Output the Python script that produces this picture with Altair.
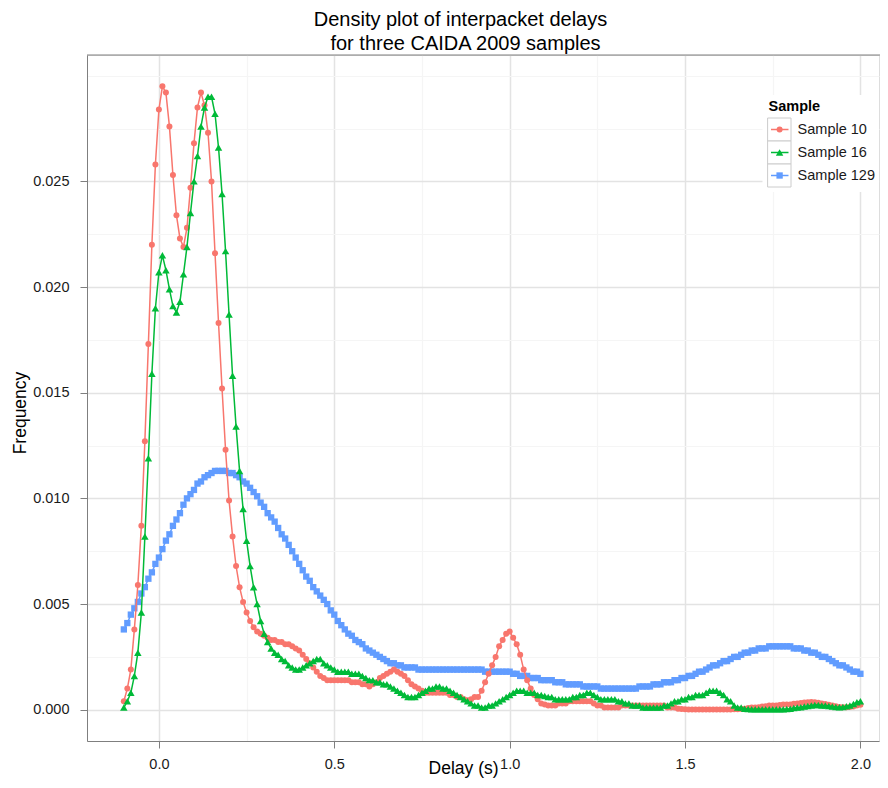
import altair as alt
import pandas as pd

# ---------------- data ----------------
X = [
    -0.10, -0.09, -0.08, -0.07, -0.06, -0.05, -0.04, -0.03, -0.02, -0.01,
    0.00, 0.01, 0.02, 0.03, 0.04, 0.05, 0.06, 0.07, 0.08, 0.09,
    0.10, 0.11, 0.12, 0.13, 0.14, 0.15, 0.16, 0.17, 0.18, 0.19,
    0.20, 0.21, 0.22, 0.23, 0.24, 0.25, 0.26, 0.27, 0.28, 0.29,
    0.30, 0.31, 0.32, 0.33, 0.34, 0.35, 0.36, 0.37, 0.38, 0.39,
    0.40, 0.41, 0.42, 0.43, 0.44, 0.45, 0.46, 0.47, 0.48, 0.49,
    0.50, 0.51, 0.52, 0.53, 0.54, 0.55, 0.56, 0.57, 0.58, 0.59,
    0.60, 0.61, 0.62, 0.63, 0.64, 0.65, 0.66, 0.67, 0.68, 0.69,
    0.70, 0.71, 0.72, 0.73, 0.74, 0.75, 0.76, 0.77, 0.78, 0.79,
    0.80, 0.81, 0.82, 0.83, 0.84, 0.85, 0.86, 0.87, 0.88, 0.89,
    0.90, 0.91, 0.92, 0.93, 0.94, 0.95, 0.96, 0.97, 0.98, 0.99,
    1.00, 1.01, 1.02, 1.03, 1.04, 1.05, 1.06, 1.07, 1.08, 1.09,
    1.10, 1.11, 1.12, 1.13, 1.14, 1.15, 1.16, 1.17, 1.18, 1.19,
    1.20, 1.21, 1.22, 1.23, 1.24, 1.25, 1.26, 1.27, 1.28, 1.29,
    1.30, 1.31, 1.32, 1.33, 1.34, 1.35, 1.36, 1.37, 1.38, 1.39,
    1.40, 1.41, 1.42, 1.43, 1.44, 1.45, 1.46, 1.47, 1.48, 1.49,
    1.50, 1.51, 1.52, 1.53, 1.54, 1.55, 1.56, 1.57, 1.58, 1.59,
    1.60, 1.61, 1.62, 1.63, 1.64, 1.65, 1.66, 1.67, 1.68, 1.69,
    1.70, 1.71, 1.72, 1.73, 1.74, 1.75, 1.76, 1.77, 1.78, 1.79,
    1.80, 1.81, 1.82, 1.83, 1.84, 1.85, 1.86, 1.87, 1.88, 1.89,
    1.90, 1.91, 1.92, 1.93, 1.94, 1.95, 1.96, 1.97, 1.98, 1.99,
    2.00,
]

SAMPLE_10 = [
    0.0004, 0.0010, 0.0019, 0.0038, 0.0059, 0.0087, 0.0127, 0.0173, 0.0220, 0.0258,
    0.0284, 0.0295, 0.0292, 0.0276, 0.0253, 0.0234, 0.0223, 0.0219, 0.0228, 0.0247,
    0.0268, 0.0285, 0.0292, 0.0286, 0.0273, 0.0250, 0.0216, 0.0183, 0.0152, 0.0123,
    0.0099, 0.0082, 0.0068, 0.0058, 0.0051, 0.0046, 0.0042, 0.0039, 0.0037, 0.0036,
    0.0035, 0.0034, 0.0033, 0.0033, 0.0032, 0.0032, 0.0031, 0.0031, 0.0030, 0.0029,
    0.0028, 0.0026, 0.0024, 0.0022, 0.0020, 0.0018, 0.0016, 0.0015, 0.0014, 0.0014,
    0.0014, 0.0014, 0.0014, 0.0014, 0.0014, 0.0013, 0.0013, 0.0013, 0.0012, 0.0012,
    0.0011, 0.0012, 0.0013, 0.0015, 0.0016, 0.0017, 0.0018, 0.0019, 0.0018, 0.0017,
    0.0016, 0.0014, 0.0012, 0.0011, 0.0010, 0.0009, 0.0008, 0.0008, 0.0008, 0.0008,
    0.0008, 0.0008, 0.0008, 0.0007, 0.0007, 0.0006, 0.0006, 0.0005, 0.00045, 0.0005,
    0.0006, 0.0006, 0.0009, 0.0013, 0.0017, 0.0021, 0.0025, 0.0030, 0.0033, 0.0036,
    0.0037, 0.0034, 0.0031, 0.0026, 0.0019, 0.0014, 0.0010, 0.0007, 0.0005, 0.0003,
    0.00025, 0.0002, 0.0002, 0.0002, 0.0003, 0.0003, 0.0003, 0.0004, 0.0004, 0.0004, 0.0004,
    0.0004, 0.0004, 0.0004, 0.0003, 0.0002, 0.0002, 0.0001, 0.0001, 0.0001, 0.0001,
    0.0001, 0.0002, 0.0002, 0.0002, 0.0002, 0.0002, 0.0002, 0.0002, 0.0002, 0.0002,
    0.0002, 0.0002, 0.0002, 0.0002, 0.0001, 0.0001, 0.0001, 0.00005, 0.00003, 0.00002,
    0.00001, 0.00001, 0.00001, 0.00001, 0.00001, 0.00001, 0.00001, 0.00001, 0.00001, 0.00001,
    0.00001, 0.00001, 0.00001, 0.00002, 0.00002, 0.00003, 0.00005, 0.00008, 0.0001, 0.0001,
    0.00012, 0.00015, 0.00017, 0.0002, 0.0002, 0.0002, 0.00022, 0.00025, 0.00025, 0.00025,
    0.00028, 0.0003, 0.00032, 0.00034, 0.00035, 0.00036, 0.00035, 0.00033, 0.0003, 0.00027,
    0.00023, 0.0002, 0.00016, 0.00013, 0.00012, 0.00012, 0.00013, 0.00015, 0.0002, 0.00024,
]

SAMPLE_16 = [
    0.0001, 0.0004, 0.0008, 0.0016, 0.0027, 0.0046, 0.0082, 0.0119, 0.0159, 0.0190,
    0.0207, 0.0215, 0.0208, 0.0199, 0.0191, 0.0188, 0.0193, 0.0206, 0.0219, 0.0235,
    0.0250, 0.0262, 0.0276, 0.0285, 0.0290, 0.0290, 0.0282, 0.0266, 0.0244, 0.0217,
    0.0187, 0.0158, 0.0134, 0.0113, 0.0095, 0.0080, 0.0068, 0.0058, 0.0050, 0.0042,
    0.0036, 0.0032, 0.0029, 0.0027, 0.0026, 0.0024, 0.0023, 0.0021, 0.0020, 0.0019,
    0.0019, 0.0020, 0.0021, 0.0022, 0.0023, 0.0024, 0.0024, 0.0022, 0.0021, 0.0020,
    0.0019, 0.0018, 0.0018, 0.0018, 0.0018, 0.0017, 0.0017, 0.0017, 0.0016, 0.0015,
    0.0014, 0.0014, 0.0013, 0.0013, 0.0012, 0.0012, 0.0011, 0.0010, 0.0009, 0.0008,
    0.0007, 0.0006, 0.0006, 0.0006, 0.0007, 0.0008, 0.0009, 0.0010, 0.0010, 0.0011,
    0.0011, 0.0010, 0.0010, 0.0009, 0.0008, 0.0007, 0.0006, 0.0005, 0.0004, 0.0003,
    0.0002, 0.0002, 0.0001, 0.0001, 0.0002, 0.0002, 0.0003, 0.0004, 0.0005, 0.0006,
    0.0007, 0.0008, 0.0009, 0.0009, 0.0009, 0.0008, 0.0008, 0.0008, 0.0007, 0.0007,
    0.00065, 0.0006, 0.0006, 0.0005, 0.0005, 0.0005, 0.0005, 0.0005, 0.0006, 0.0006, 0.0007,
    0.0007, 0.0008, 0.0008, 0.0007, 0.0006, 0.0005, 0.0005, 0.0005, 0.0005, 0.0005,
    0.0004, 0.0004, 0.0003, 0.0003, 0.0002, 0.0002, 0.0002, 0.0001, 0.0001, 0.0001,
    0.0001, 0.0001, 0.0001, 0.0002, 0.0002, 0.0003, 0.0004, 0.0004, 0.0005, 0.0005,
    0.0006, 0.0006, 0.0007, 0.0007, 0.0007, 0.0008, 0.0009, 0.0009, 0.0009, 0.0008,
    0.0007, 0.0005, 0.0004, 0.0002, 0.0001, 0.0001, 0.00005, 0.00003, 0.00002, 0.00002,
    0.00002, 0.00002, 0.00002, 0.00002, 0.00002, 0.00002, 0.00002, 0.00002, 0.00003, 0.00005,
    0.00008, 0.0001, 0.00012, 0.00015, 0.00018, 0.0002, 0.00022, 0.00022, 0.0002, 0.0002,
    0.00018, 0.00015, 0.00013, 0.00012, 0.00013, 0.00016, 0.0002, 0.00027, 0.00035, 0.0004,
]

SAMPLE_129 = [
    0.0038, 0.0041, 0.0045, 0.0048, 0.0051, 0.0055, 0.0058, 0.0062, 0.0065, 0.0069,
    0.0072, 0.0076, 0.0080, 0.0083, 0.0087, 0.0090, 0.0093, 0.0097, 0.0100, 0.0102,
    0.0104, 0.0107, 0.0108, 0.0110, 0.0111, 0.0112, 0.0113, 0.0113, 0.0113, 0.0113,
    0.0112, 0.0112, 0.0111, 0.0110, 0.0108, 0.0107, 0.0105, 0.0103, 0.0101, 0.0098,
    0.0096, 0.0093, 0.0091, 0.0089, 0.0086, 0.0083, 0.0081, 0.0078, 0.0075, 0.0072,
    0.0069, 0.0066, 0.0063, 0.0061, 0.0058, 0.0056, 0.0054, 0.0052, 0.0050, 0.0047,
    0.0045, 0.0042, 0.0040, 0.0038, 0.0036, 0.0035, 0.0033, 0.0032, 0.0031, 0.0029,
    0.0028, 0.0027, 0.0026, 0.0025, 0.0024, 0.0023, 0.0022, 0.0022, 0.0021, 0.0021,
    0.0020, 0.0020, 0.0020, 0.0020, 0.0019, 0.0019, 0.0019, 0.0019, 0.0019, 0.0019,
    0.0019, 0.0019, 0.0019, 0.0019, 0.0019, 0.0019, 0.0019, 0.0019, 0.0019, 0.0019,
    0.0019, 0.0019, 0.0019, 0.0018, 0.0018, 0.0018, 0.0018, 0.0018, 0.0018, 0.0018,
    0.0018, 0.0017, 0.0017, 0.0016, 0.0016, 0.0016, 0.0015, 0.0015, 0.0015, 0.0014,
    0.0014, 0.0014, 0.0014, 0.0013, 0.0013, 0.0013, 0.0012, 0.0012, 0.0012, 0.0012, 0.0012,
    0.0011, 0.0011, 0.0011, 0.0011, 0.0011, 0.0010, 0.0010, 0.0010, 0.0010, 0.0010,
    0.0010, 0.0010, 0.0010, 0.0010, 0.0010, 0.0010, 0.0011, 0.0011, 0.0011, 0.0011,
    0.0012, 0.0012, 0.0012, 0.0013, 0.0013, 0.0013, 0.0014, 0.0014, 0.0015, 0.0015,
    0.0016, 0.0016, 0.0017, 0.0018, 0.0018, 0.0019, 0.0020, 0.0021, 0.0021, 0.0022,
    0.0023, 0.0023, 0.0024, 0.0025, 0.0025, 0.0026, 0.0027, 0.0027, 0.0028, 0.0028,
    0.0029, 0.0029, 0.0029, 0.0030, 0.0030, 0.0030, 0.0030, 0.0030, 0.0030, 0.0030,
    0.0029, 0.0029, 0.0029, 0.0028, 0.0028, 0.0027, 0.0027, 0.0026, 0.0025, 0.0025,
    0.0024, 0.0023, 0.0022, 0.0021, 0.0021, 0.0020, 0.0019, 0.0018, 0.0018, 0.0017,
]

SERIES = ["Sample 10", "Sample 16", "Sample 129"]
COLORS = ["#F8766D", "#00BA38", "#619CFF"]
SHAPES = ["circle", "triangle-up", "square"]
TITLE_LINES = ["Density plot of interpacket delays", "for three CAIDA 2009 samples"]
X_TITLE = "Delay (s)"
Y_TITLE = "Frequency"
LEGEND_TITLE = "Sample"
X_BREAKS = [0.0, 0.25, 0.5, 0.75, 1.0, 1.25, 1.5, 1.75, 2.0]
Y_BREAKS = [0.0, 0.0025, 0.005, 0.0075, 0.01, 0.0125, 0.015, 0.0175,
            0.02, 0.0225, 0.025, 0.0275, 0.03]

# ---------------- layout / style ----------------
FONT = "Liberation Sans"
W, H = 792, 686
XDOM = [-0.205, 2.053]
YDOM = [-0.00148, 0.03098]
GREY50 = "#7F7F7F"
TXT = "#1A1A1A"
SIZES = {"circle": 36, "triangle-up": 56, "square": 40}

x_major = "round(datum.value*4) % 2 === 0"
y_major = "datum.value < 0.026 && round(datum.value*400) % 2 === 0"


def axis(major, fmt, pad):
    return alt.Axis(
        values=X_BREAKS if fmt == ".1f" else Y_BREAKS,
        title=None,
        labelExpr=f"({major}) ? format(datum.value, '{fmt}') : ''",
        labelFont=FONT, labelFontSize=14.5, labelColor=TXT,
        labelPadding=pad, labelFlush=False, labelOverlap=False,
        grid=True,
        gridColor={"condition": {"test": major, "value": "#E3E3E3"}, "value": "#F5F5F5"},
        gridWidth={"condition": {"test": major, "value": 1.5}, "value": 1.2},
        tickOpacity={"condition": {"test": major, "value": 1}, "value": 0},
        tickColor=GREY50, tickSize=7, tickWidth=1,
        domainColor=GREY50, domainWidth=1,
    )


x_enc = alt.X("x:Q", scale=alt.Scale(domain=XDOM, nice=False, zero=False),
              axis=axis(x_major, ".1f", 9))
y_enc = alt.Y("y:Q", scale=alt.Scale(domain=YDOM, nice=False, zero=False),
              axis=axis(y_major, ".3f", 11))

values = {"Sample 10": SAMPLE_10, "Sample 16": SAMPLE_16, "Sample 129": SAMPLE_129}
layers = []
# drawing order: Sample 129 underneath, then Sample 10, then Sample 16
for idx in [2, 0, 1]:
    name = SERIES[idx]
    df = pd.DataFrame({"x": X, "y": values[name], "Sample": name})
    base = alt.Chart(df).encode(x=x_enc, y=y_enc)
    layers.append(base.mark_line(color=COLORS[idx], strokeWidth=1.5))
    layers.append(base.mark_point(shape=SHAPES[idx], filled=True, size=SIZES[SHAPES[idx]],
                                  color=COLORS[idx], opacity=1, strokeWidth=0))


def one(text=""):
    return alt.Chart(pd.DataFrame({"t": [text]}))


# top panel border (right border is outside the picture)
layers.append(one().mark_rule(color=GREY50, strokeWidth=1).encode(
    x=alt.value(0), x2=alt.value(W + 1), y=alt.value(0)))

# titles
layers.append(one(TITLE_LINES[0]).mark_text(font=FONT, fontSize=20, color="black",
                                             align="center", baseline="alphabetic").encode(
    x=alt.value(373.5), y=alt.value(-29.5), text="t:N"))
layers.append(one(TITLE_LINES[1]).mark_text(font=FONT, fontSize=20, color="black",
                                             align="center", baseline="alphabetic").encode(
    x=alt.value(378.5), y=alt.value(-5.5), text="t:N"))
layers.append(one(X_TITLE).mark_text(font=FONT, fontSize=17.5, color="black",
                                     align="center", baseline="middle").encode(
    x=alt.value(376.6), y=alt.value(714), text="t:N"))
layers.append(one(Y_TITLE).mark_text(font=FONT, fontSize=17.5, color="black", angle=270,
                                     align="center", baseline="middle").encode(
    x=alt.value(-66.5), y=alt.value(358), text="t:N"))

# legend (ggplot style, inside the panel at top right)
layers.append(one().mark_rect(fill="white").encode(
    x=alt.value(675.5), x2=alt.value(W), y=alt.value(40), y2=alt.value(137)))
layers.append(one(LEGEND_TITLE).mark_text(font=FONT, fontSize=14.5, fontWeight="bold",
                                          color="black", align="left", baseline="middle").encode(
    x=alt.value(681.6), y=alt.value(52), text="t:N"))
for i, name in enumerate(SERIES):
    top = 63 + 23 * i
    cy = top + 11.5
    layers.append(one().mark_rect(fill="white", stroke="#CCCCCC", strokeWidth=1).encode(
        x=alt.value(680.6), x2=alt.value(704), y=alt.value(top), y2=alt.value(top + 23)))
    layers.append(one().mark_rule(color=COLORS[i], strokeWidth=1.5).encode(
        x=alt.value(684), x2=alt.value(701.5), y=alt.value(cy)))
    layers.append(one().mark_point(shape=SHAPES[i], filled=True, size=SIZES[SHAPES[i]],
                                   color=COLORS[i], opacity=1, strokeWidth=0).encode(
        x=alt.value(692.6), y=alt.value(cy)))
    layers.append(one(name).mark_text(font=FONT, fontSize=14.5, color=TXT,
                                      align="left", baseline="middle").encode(
        x=alt.value(710.6), y=alt.value(cy), text="t:N"))

chart = alt.layer(*layers).properties(
    width=W, height=H,
    autosize=alt.AutoSizeParams(type="none"),
    padding={"left": 79, "top": 47, "right": 1, "bottom": 39},
).configure_view(stroke=None).configure(font=FONT)

chart.save("out.html", embed_options={"renderer": "svg", "actions": False})
